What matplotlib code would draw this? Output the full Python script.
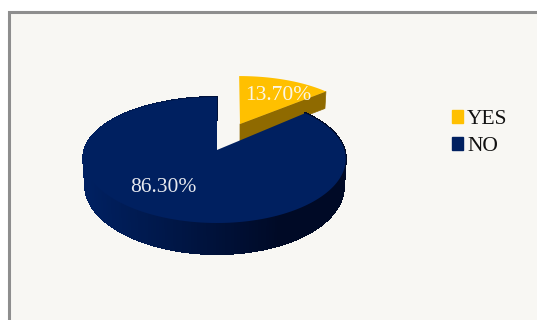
import numpy as np
import matplotlib
matplotlib.use('Agg')
import matplotlib.pyplot as plt
from matplotlib.patches import Patch, Rectangle
from matplotlib.colors import to_rgb

labels = ['YES', 'NO']
shares = [13.70, 86.30]
colors = ['#ffc000', '#002060']

plt.rcParams['font.family'] = ['Liberation Serif', 'DejaVu Serif']

fig = plt.figure(figsize=(5.37, 3.2), dpi=100, facecolor='white')
ax = fig.add_axes([0, 0, 1, 1])
ax.set_xlim(0, 537)
ax.set_ylim(320, 0)
ax.axis('off')

# panel with its grey border, running off the right and bottom edges
ax.add_patch(Rectangle((9, 12), 540, 320, fc='#f8f7f3', ec='#8e8e8e', lw=2.2))


def project(theta, scale=1.0):
    # tilted disc seen in perspective, theta in degrees from +x
    t = np.radians(theta)
    u = np.cos(t) * scale
    v = np.sin(t) * scale
    x = 217 + 130 * u * (1 - 0.14 * v) - 2.5 * (1 - v * v)
    y = 150 - 63 * v + 10 * v * v
    return x, y


yes_angle = shares[0] / 100 * 360
yes_start = 90 - yes_angle

# exploded YES slice
th = np.linspace(yes_start, 90, 40)
x, y = project(th, 0.93)
x = 239.5 + (x - 217) * 1.05
y = y - 24
ax.fill([x[0], x[0] - 1, 240, 240], [y[0], y[0] + 17, 141, 124], color='#8f6a00', lw=0.5)
ax.fill(np.r_[240, x], np.r_[124, y], color=colors[0], lw=0)

# NO slice: rim shaded left to right, then the top face
th = np.linspace(90, 360 + yes_start, 260)
x, y = project(th)
xb = 215 + (x - 215) * 0.985
depth = 27 - 4 * np.sin(np.radians(th))
yb = y + depth
dark = np.array(to_rgb('#000a26'))
base = np.array(to_rgb(colors[1]))
for i in range(len(th) - 1):
    f = np.clip((x[i] - 90) / 190, 0, 1)
    c = base * (1 - f) + dark * f
    ax.fill([x[i], x[i + 1], xb[i + 1], xb[i]], [y[i], y[i + 1], yb[i + 1], yb[i]],
            color=c, lw=0.8, antialiased=False)
ax.fill(np.r_[217, x], np.r_[150, y], color=colors[1], lw=0)

ax.text(278.5, 100.5, '%.2f%%' % shares[0], color='#fbf6e6', fontsize=15.5, ha='center', va='baseline')
ax.text(163.5, 191.5, '%.2f%%' % shares[1], color='#e6e8ee', fontsize=15.5, ha='center', va='baseline')

handles = [Patch(color=c, label=l) for c, l in zip(colors, labels)]
ax.legend(handles=handles, loc='upper left', bbox_to_anchor=(452 / 537, 1 - 110 / 320),
          frameon=False, fontsize=15.5, handlelength=0.53, handleheight=0.53,
          handletextpad=0.17, labelspacing=0.38, borderpad=0, borderaxespad=0,
          labelcolor='#111111')

fig.savefig('out.png', dpi=100)
